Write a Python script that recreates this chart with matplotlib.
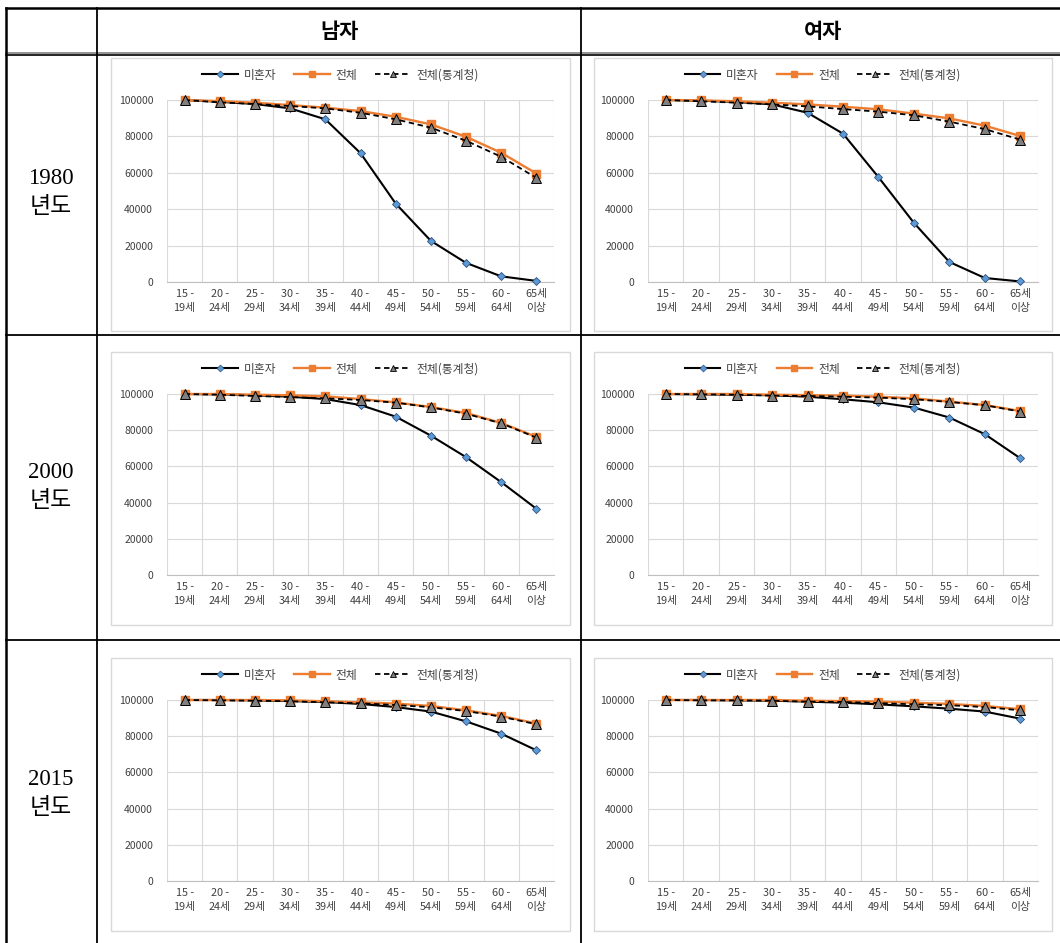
import matplotlib
matplotlib.use('Agg')
import matplotlib.pyplot as plt
from matplotlib.lines import Line2D
from matplotlib.patches import Rectangle

plt.rcParams['font.family'] = ['Noto Sans CJK KR', 'DejaVu Sans']

# Data
age_labels = ['15 -\n19세', '20 -\n24세', '25 -\n29세', '30 -\n34세', '35 -\n39세', '40 -\n44세',
              '45 -\n49세', '50 -\n54세', '55 -\n59세', '60 -\n64세', '65세\n이상']
series_names = ['미혼자', '전체', '전체(통계청)']
col_titles = ['남자', '여자']
row_titles = ['1980\n년도', '2000\n년도', '2015\n년도']

m1980_single = [100000, 99000, 97800, 95400, 89400, 70800, 43100, 22600, 10500, 3100, 600]
m1980_total = [100000, 99400, 98500, 97200, 95800, 93900, 90800, 86600, 79800, 71000, 59600]
m1980_kostat = [100000, 98700, 97800, 96700, 95400, 93000, 89400, 84800, 77600, 68800, 57200]

f1980_single = [100000, 99600, 98900, 97600, 93000, 81500, 57600, 32500, 11000, 2200, 300]
f1980_total = [100000, 99800, 99300, 98500, 97600, 96300, 94900, 92500, 89900, 85900, 80200]
f1980_kostat = [100000, 99300, 98500, 97600, 96500, 95000, 93600, 91600, 88100, 84000, 78200]

m2000_single = [100000, 99800, 99300, 98500, 97200, 93900, 87500, 77000, 65100, 51300, 36600]
m2000_total = [100000, 100000, 99600, 99300, 98700, 97200, 95400, 92800, 89500, 84000, 76300]
m2000_kostat = [100000, 99600, 98900, 98300, 97600, 96700, 95200, 92600, 89100, 83800, 75900]

f2000_single = [100000, 99800, 99600, 99300, 98500, 97100, 95400, 92500, 87000, 77800, 64500]
f2000_total = [100000, 100000, 100000, 99600, 99400, 99100, 98500, 97600, 95800, 93900, 90600]
f2000_kostat = [100000, 99800, 99600, 99100, 98900, 98500, 98000, 97100, 95600, 93800, 90300]

m2015_single = [100000, 100000, 99800, 99400, 98900, 97800, 96100, 93600, 88200, 81400, 72200]
m2015_total = [100000, 100000, 100000, 99800, 99300, 98700, 98000, 96700, 94300, 91200, 87000]
m2015_kostat = [100000, 99800, 99600, 99300, 98700, 98200, 97200, 96000, 93900, 90800, 86600]

f2015_single = [100000, 100000, 99800, 99600, 99100, 98500, 97600, 96500, 95200, 93600, 89700]
f2015_total = [100000, 100000, 100000, 100000, 99600, 99400, 99100, 98500, 97800, 96700, 94900]
f2015_kostat = [100000, 99800, 99800, 99600, 99100, 98900, 98300, 97600, 97100, 96100, 94300]

panels = [
    [(m1980_single, m1980_total, m1980_kostat), (f1980_single, f1980_total, f1980_kostat)],
    [(m2000_single, m2000_total, m2000_kostat), (f2000_single, f2000_total, f2000_kostat)],
    [(m2015_single, m2015_total, m2015_kostat), (f2015_single, f2015_total, f2015_kostat)],
]

W, H = 1060, 943
fig = plt.figure(figsize=(W / 100, H / 100), dpi=100)
fig.patch.set_facecolor('white')

# background axes in pixel coords for the table
bg = fig.add_axes([0, 0, 1, 1])
bg.set_xlim(0, W)
bg.set_ylim(H, 0)
bg.axis('off')

# table lines
bg.plot([6, 1062], [8, 8], color='black', lw=1.8)
bg.plot([6, 1062], [53, 53], color='#808080', lw=1.2)
bg.plot([6, 1062], [54.5, 54.5], color='black', lw=1.2)
bg.plot([6, 1062], [335, 335], color='black', lw=1.3)
bg.plot([6, 1062], [640, 640], color='black', lw=1.3)
bg.plot([6, 6], [8, 945], color='black', lw=1.8)
bg.plot([97, 97], [8, 945], color='black', lw=1.3)
bg.plot([581, 581], [8, 945], color='black', lw=1.3)

# headers
col_centers = [339, 823]
for cx, t in zip(col_centers, col_titles):
    bg.text(cx, 32, t, ha='center', va='center', fontsize=15, fontweight='bold')
row_centers = [193, 487, 794]
for cy, t in zip(row_centers, row_titles):
    bg.text(51, cy, t, ha='center', va='center', fontsize=16.5, linespacing=1.45,
            family=['Liberation Serif', 'Noto Sans CJK KR'])

# chart geometry (pixels)
box_x = [(111, 570), (594, 1052)]
box_y = [(58, 331), (352, 625), (658, 931)]
plot_x = [(167, 554), (648, 1038)]
plot_y = [(100, 282), (394, 575), (700, 881)]
legend_y = [75, 369, 675]

x = list(range(len(age_labels)))

for r in range(3):
    for c in range(2):
        bx0, bx1 = box_x[c]
        by0, by1 = box_y[r]
        bg.add_patch(Rectangle((bx0, by0), bx1 - bx0, by1 - by0, fill=False,
                               edgecolor='#d9d9d9', lw=1.0))

        px0, px1 = plot_x[c]
        py0, py1 = plot_y[r]
        ax = fig.add_axes([px0 / W, 1 - py1 / H, (px1 - px0) / W, (py1 - py0) / H])
        ax.set_facecolor('none')
        single, total, kostat = panels[r][c]

        ax.plot(x, single, color='black', lw=1.5, marker='D', markersize=4.5,
                mfc='#5b9bd5', mec='#2f4f7f', mew=0.6, clip_on=False, zorder=3)
        ax.plot(x, total, color='#ed7d31', lw=1.7, marker='s', markersize=5.5,
                mfc='#ed7d31', mec='#ed7d31', clip_on=False, zorder=4)
        ax.plot(x, kostat, color='black', lw=1.3, ls=(0, (3, 2)), marker='^', markersize=7,
                mfc='#808080', mec='black', mew=0.7, clip_on=False, zorder=5)

        ax.set_xlim(-0.5, len(age_labels) - 0.5)
        ax.set_ylim(0, 100000)
        ax.set_yticks(range(0, 100001, 20000))
        ax.set_xticks(x)
        ax.set_xticklabels(age_labels, fontsize=7.8, linespacing=1.45, color='#404040')
        ax.set_xticks([i - 0.5 for i in range(len(age_labels) + 1)], minor=True)
        ax.grid(True, which='minor', axis='x', color='#d9d9d9', lw=0.8)
        ax.grid(True, which='major', axis='y', color='#d9d9d9', lw=0.8)
        ax.set_axisbelow(True)
        ax.tick_params(axis='x', which='both', length=0, pad=5)
        ax.tick_params(axis='y', length=0, pad=10, labelsize=7.5, labelcolor='#404040')
        for s in ['top', 'right', 'left']:
            ax.spines[s].set_visible(False)
        ax.spines['bottom'].set_color('#bfbfbf')
        ax.spines['bottom'].set_linewidth(0.8)

        handles = [
            Line2D([], [], color='black', lw=1.5, marker='D', markersize=3.5,
                   mfc='#5b9bd5', mec='#2f4f7f', mew=0.5),
            Line2D([], [], color='#ed7d31', lw=1.7, marker='s', markersize=5,
                   mfc='#ed7d31', mec='#ed7d31'),
            Line2D([], [], color='black', lw=1.3, ls=(0, (3, 2)), marker='^', markersize=4,
                   mfc='#808080', mec='black', mew=0.6),
        ]
        cx = (bx0 + bx1) / 2
        ax.legend(handles, series_names, loc='center', ncol=3, frameon=False,
                  bbox_to_anchor=(cx / W, 1 - legend_y[r] / H), bbox_transform=fig.transFigure,
                  fontsize=8.5, handlelength=3.0, handletextpad=0.5, columnspacing=1.5,
                  labelcolor='#404040')

fig.savefig('out.png', dpi=100)
